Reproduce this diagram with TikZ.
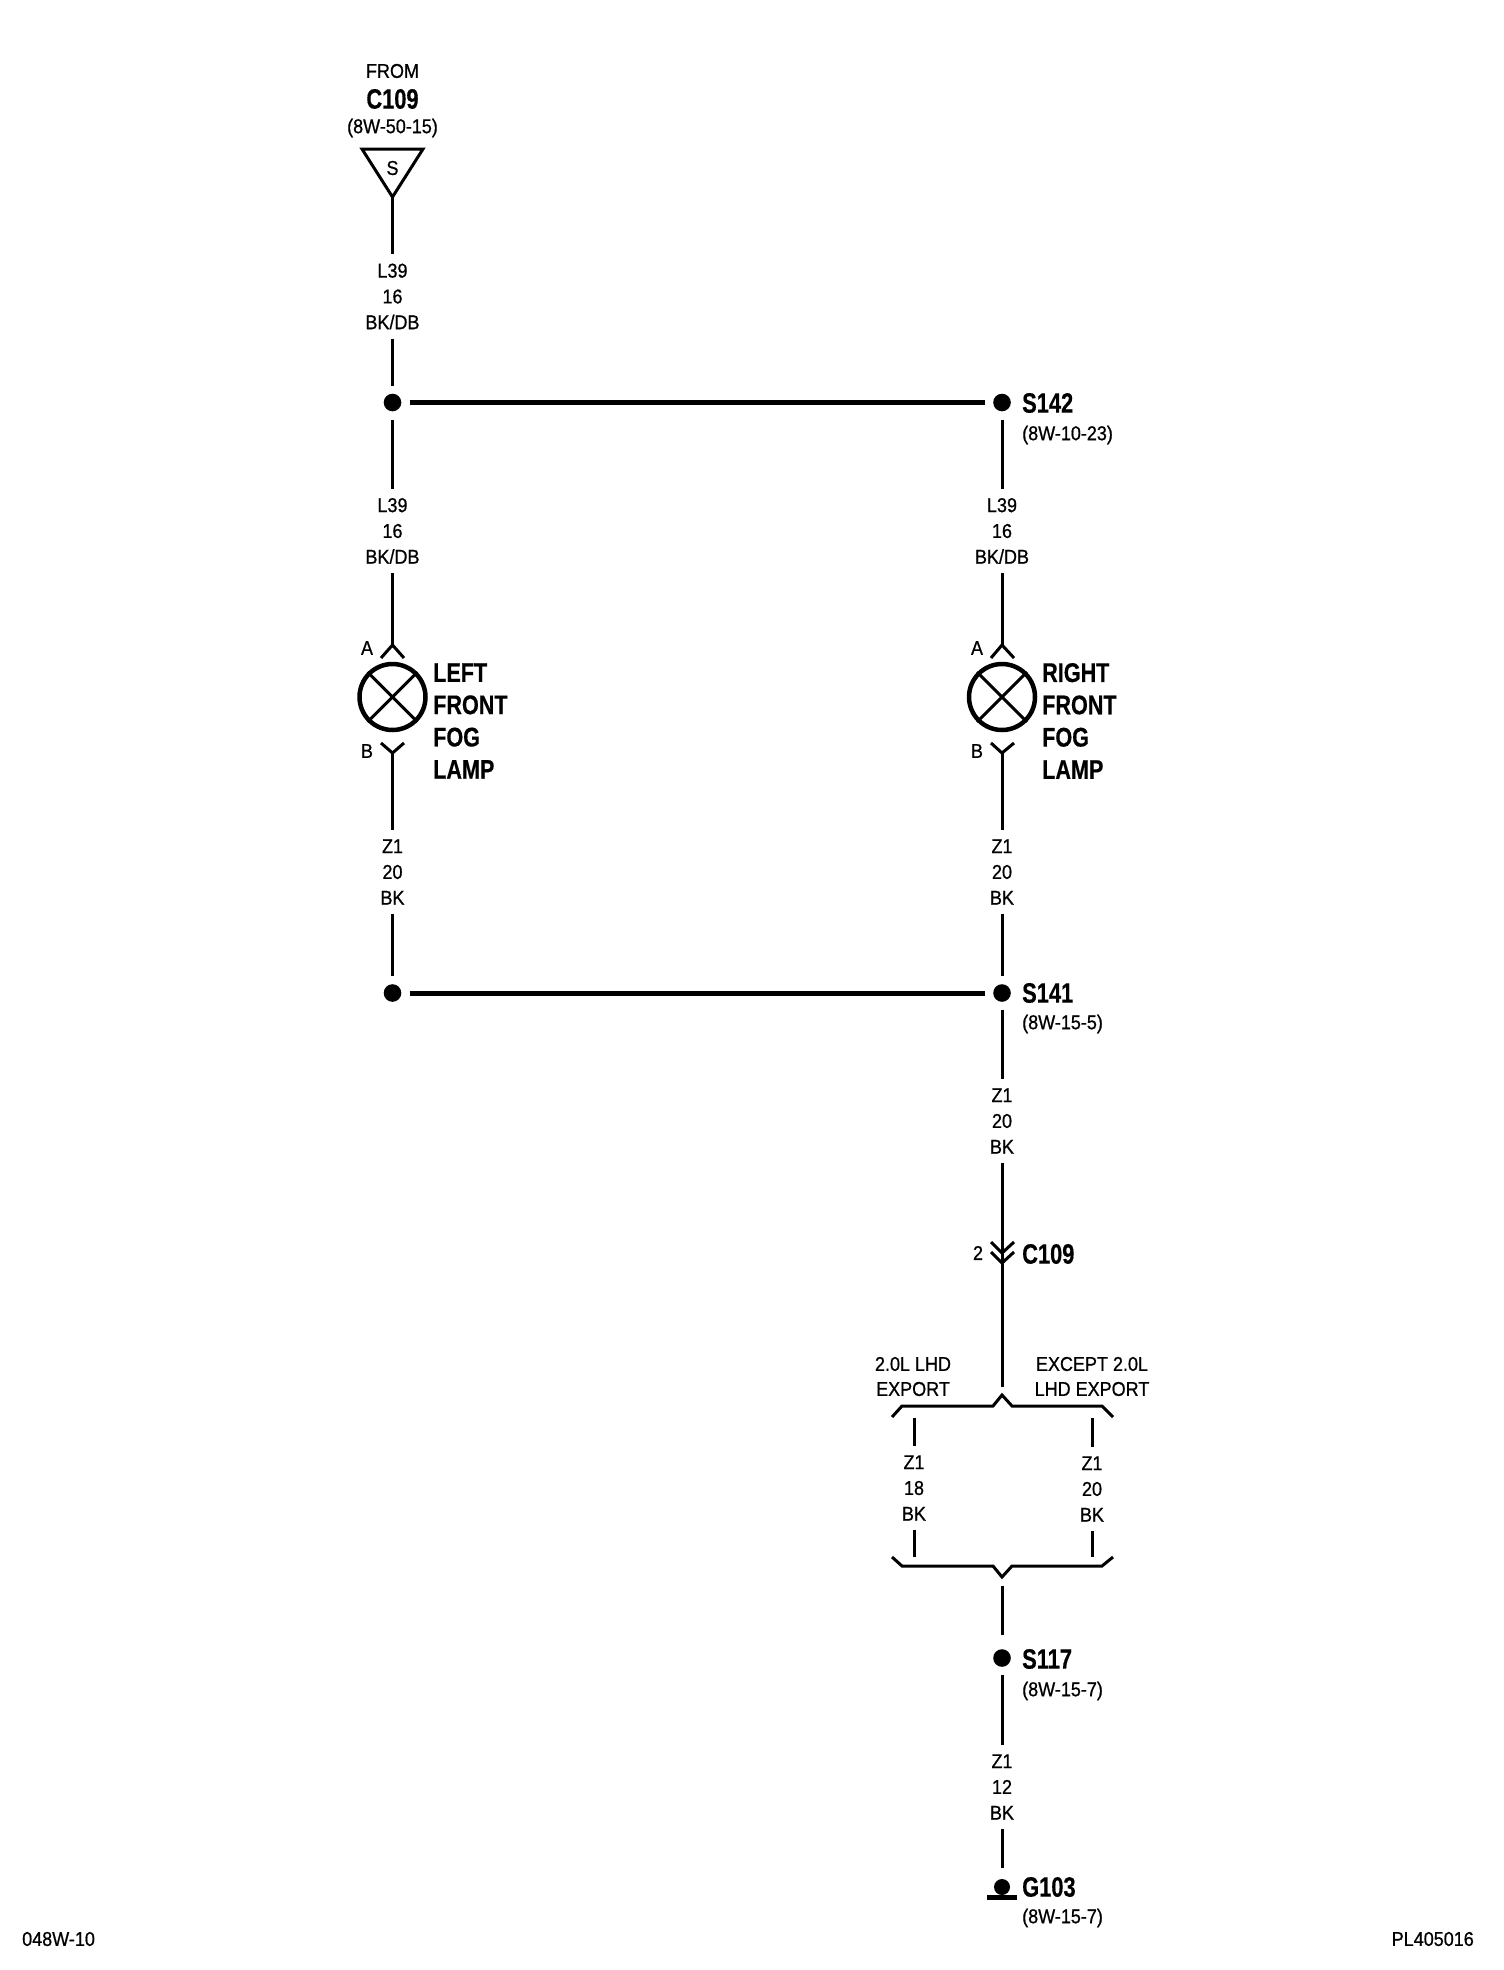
\documentclass[tikz,border=0pt]{standalone}
\usepackage{fontspec}
\setmainfont{Liberation Sans}
\newfontfamily\regf[FakeBold=0.8]{Liberation Sans}
\newfontfamily\boldf[FakeBold=0.5]{Liberation Sans Bold}
\newcommand{\rg}[1]{\scalebox{.9}[1]{#1}}
\newcommand{\narrowid}[1]{\scalebox{.78}[1]{#1}}
\newcommand{\lm}[1]{\scalebox{.8}[1]{#1}}
\tikzset{
  wire/.style={line width=3pt,black,line cap=butt},
  busbar/.style={line width=5pt,black,shorten <=8pt,shorten >=8pt},
  splice/.style={circle,fill=black,draw=none,minimum size=17.6pt,inner sep=0pt},
  gapfrom/.style={shorten <=8pt},
  gapto/.style={shorten >=8pt},
  txt/.style={inner sep=0pt,font=\regf\fontsize{20}{20}\selectfont},
  wirelabel/.style={inner xsep=0pt,inner ysep=9pt,align=center,font=\regf\fontsize{20}{25.8}\selectfont},
  idlabel/.style={inner sep=0pt,anchor=west,font=\boldf\fontsize{28}{28}\selectfont},
  sublabel/.style={inner sep=0pt,anchor=west,font=\regf\fontsize{20}{20}\selectfont},
  lamp/.style={circle,draw=black,line width=4.5pt,minimum size=66pt,inner sep=0pt},
  lampcross/.style={line width=3pt,black},
  lamplabel/.style={inner sep=0pt,anchor=west,align=left,font=\boldf\fontsize{27}{32.3}\selectfont},
  pinlabel/.style={inner sep=0pt,font=\regf\fontsize{20}{20}\selectfont},
  pin/.style={line width=3pt,black,line join=miter},
  brace/.style={line width=3pt,black,line join=miter},
}
\begin{document}
\begin{tikzpicture}[x=1pt,y=-1pt]
\useasboundingbox (0,0) rectangle (1504,1970);
% top source
\node[txt] (from) at (392.5,71) {\rg{FROM}};
\node[idlabel,anchor=center] (c109a) at (392.5,99) {\narrowid{C109}};
\node[txt] (src) at (392.5,128) {\rg{(8W-50-15)}};
\coordinate (tl) at (362,149);
\coordinate (tr) at (423,149);
\coordinate (apex) at (392.5,197);
\draw[wire,line join=miter] (tl) -- (tr) -- (apex) -- cycle;
\node[txt] (s) at (392.5,168) {\rg{S}};
% left column
\node[wirelabel] (w1) at (392.5,296.5) {\rg{L39}\\\rg{16}\\\rg{BK/DB}};
\draw[wire] (apex) -- (w1.north);
\node[splice] (j1) at (392.5,402.5) {};
\draw[wire,gapto] (w1.south) -- (j1.north);
\node[wirelabel] (w2) at (392.5,531) {\rg{L39}\\\rg{16}\\\rg{BK/DB}};
\draw[wire,gapfrom] (j1.south) -- (w2.north);
\coordinate (la) at (392.5,645);
\coordinate (lb) at (392.5,753);
\draw[wire] (w2.south) -- (la);
\draw[pin] (381,658) -- (la) -- (404,658);
\node[pinlabel] (pa1) at (367,648) {\rg{A}};
\node[lamp] (lamp1) at (392.5,697) {};
\draw[lampcross] (lamp1.45) -- (lamp1.225);
\draw[lampcross] (lamp1.135) -- (lamp1.315);
\node[lamplabel] (ll) at (433,721) {\lm{LEFT}\\\lm{FRONT}\\\lm{FOG}\\\lm{LAMP}};
\draw[pin] (381,743) -- (lb) -- (404,743);
\node[pinlabel] (pb1) at (367,751) {\rg{B}};
\node[wirelabel] (w3) at (392.5,872) {\rg{Z1}\\\rg{20}\\\rg{BK}};
\draw[wire] (lb) -- (w3.north);
\node[splice] (j2) at (392.5,993) {};
\draw[wire,gapto] (w3.south) -- (j2.north);
% right column
\node[splice] (s142) at (1002,402.5) {};
\draw[busbar] (j1) -- (s142);
\node[idlabel] (s142t) at (1022,403) {\narrowid{S142}};
\node[sublabel] (s142s) at (1022,435) {\rg{(8W-10-23)}};
\node[wirelabel] (w4) at (1002,531) {\rg{L39}\\\rg{16}\\\rg{BK/DB}};
\draw[wire,gapfrom] (s142.south) -- (w4.north);
\coordinate (ra) at (1002,645);
\coordinate (rb) at (1002,753);
\draw[wire] (w4.south) -- (ra);
\draw[pin] (991,658) -- (ra) -- (1014,658);
\node[pinlabel] (pa2) at (977,648) {\rg{A}};
\node[lamp] (lamp2) at (1002,697) {};
\draw[lampcross] (lamp2.45) -- (lamp2.225);
\draw[lampcross] (lamp2.135) -- (lamp2.315);
\node[lamplabel] (lr) at (1042,721) {\lm{RIGHT}\\\lm{FRONT}\\\lm{FOG}\\\lm{LAMP}};
\draw[pin] (991,743) -- (rb) -- (1014,743);
\node[pinlabel] (pb2) at (977,751) {\rg{B}};
\node[wirelabel] (w5) at (1002,872) {\rg{Z1}\\\rg{20}\\\rg{BK}};
\draw[wire] (rb) -- (w5.north);
\node[splice] (s141) at (1002,993) {};
\draw[wire,gapto] (w5.south) -- (s141.north);
\draw[busbar] (j2) -- (s141);
\node[idlabel] (s141t) at (1022,993) {\narrowid{S141}};
\node[sublabel] (s141s) at (1022,1024) {\rg{(8W-15-5)}};
\node[wirelabel] (w6) at (1002,1121) {\rg{Z1}\\\rg{20}\\\rg{BK}};
\draw[wire,gapfrom] (s141.south) -- (w6.north);
% C109 connector
\coordinate (c1) at (1002,1253);
\coordinate (c2) at (1002,1263);
\coordinate (brt) at (1002,1387);
\draw[wire] (w6.south) -- (brt);
\draw[pin] (991,1242) -- (c1) -- (1014,1242);
\draw[pin] (991,1252) -- (c2) -- (1014,1252);
\node[pinlabel] (p2) at (978,1253) {\rg{2}};
\node[idlabel] (c109b) at (1022,1254) {\narrowid{C109}};
% branch
\node[txt] (t1) at (913,1364) {\rg{2.0L LHD}};
\node[txt] (t2) at (913,1389) {\rg{EXPORT}};
\node[txt] (t3) at (1092,1364) {\rg{EXCEPT 2.0L}};
\node[txt] (t4) at (1092,1389) {\rg{LHD EXPORT}};
\draw[brace] (892,1417) -- (902,1406) -- (993,1406) -- (1002,1395) -- (1012,1406) -- (1102,1406) -- (1113,1417);
\draw[brace] (892,1557) -- (902,1566) -- (993,1566) -- (1002,1577) -- (1012,1566) -- (1102,1566) -- (1113,1557);
\node[wirelabel] (w7) at (914,1488) {\rg{Z1}\\\rg{18}\\\rg{BK}};
\node[wirelabel] (w8) at (1092,1489) {\rg{Z1}\\\rg{20}\\\rg{BK}};
\coordinate (b1t) at (914,1418);
\coordinate (b1b) at (914,1557);
\coordinate (b2t) at (1092,1418);
\coordinate (b2b) at (1092,1557);
\draw[wire] (b1t) -- (w7.north);
\draw[wire] (w7.south) -- (b1b);
\draw[wire] (b2t) -- (w8.north);
\draw[wire] (w8.south) -- (b2b);
% bottom
\coordinate (brb) at (1002,1586);
\node[splice] (s117) at (1002,1658) {};
\draw[wire,shorten >=14pt] (brb) -- (s117.north);
\node[idlabel] (s117t) at (1022,1659) {\narrowid{S117}};
\node[sublabel] (s117s) at (1022,1691) {\rg{(8W-15-7)}};
\node[wirelabel] (w9) at (1002,1787) {\rg{Z1}\\\rg{12}\\\rg{BK}};
\draw[wire,gapfrom] (s117.south) -- (w9.north);
\coordinate (gtop) at (1002,1868);
\draw[wire] (w9.south) -- (gtop);
\coordinate (gl) at (987,1897);
\coordinate (gr) at (1017,1897);
\node[splice,minimum size=16pt] (g103) at (1002,1887) {};
\draw[line width=5pt,black] (gl) -- (gr);
\node[idlabel] (g103t) at (1022,1887) {\narrowid{G103}};
\node[sublabel] (g103s) at (1022,1918) {\rg{(8W-15-7)}};
% page marks
\node[txt,anchor=west] (pg) at (22,1939) {\rg{048W-10}};
\node[txt,anchor=east] (ref) at (1474,1939) {\rg{PL405016}};
\end{tikzpicture}
\end{document}
